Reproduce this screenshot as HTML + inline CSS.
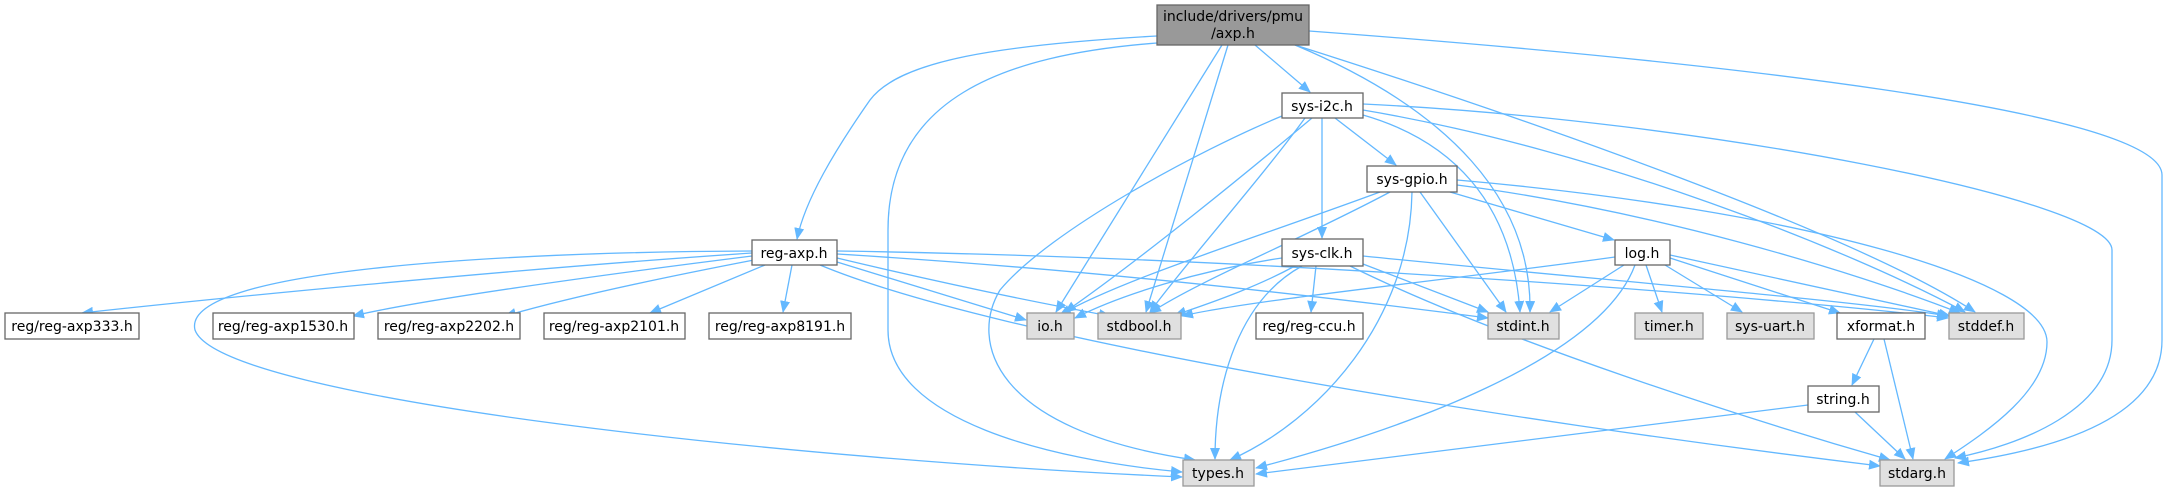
<!DOCTYPE html>
<html><head><meta charset="utf-8"><style>
html,body{margin:0;padding:0;background:#fff;}
svg{display:block;}
text{font-family:"DejaVu Sans","Liberation Sans",sans-serif;font-size:14px;fill:#000;}
.n{fill:#fff;stroke:#666;stroke-width:1.3;}
.g{fill:#e0e0e0;stroke:#999;stroke-width:1.3;}
.e{fill:none;stroke:#63b8ff;stroke-width:1.3;}
</style></head><body>
<svg width="2168" height="491" viewBox="0 0 2168 491" xmlns="http://www.w3.org/2000/svg">
<defs><marker id="a" markerWidth="12" markerHeight="10" refX="11" refY="5" orient="auto" markerUnits="userSpaceOnUse"><path d="M0,0 L12,5 L0,10 z" fill="#63b8ff"/></marker></defs>
<g class="e" marker-end="url(#a)">
<!-- axp.h -->
<path d="M1157,36 C1000,45 900,60 870,100 C835,150 805,200 797,239"/>
<path d="M1157,43 C1000,55 888,100 888,230 L888,330 C888,420 1050,460 1182,472"/>
<path d="M1222,45 L1056,312"/>
<path d="M1228,45 L1146,312"/>
<path d="M1255,45 L1310,92"/>
<path d="M1295,45 C1450,110 1532,200 1530,312"/>
<path d="M1295,45 C1500,110 1850,230 1975,312"/>
<path d="M1309,31 C1700,60 2162,110 2162,175 L2162,340 C2162,420 2050,450 1958,463"/>
<!-- reg-axp.h -->
<path d="M752,253 C500,270 200,300 82,313"/>
<path d="M752,256 C600,275 420,300 353,316"/>
<path d="M754,260 C650,280 560,300 505,316"/>
<path d="M765,265 L650,313"/>
<path d="M792,265 L783,312"/>
<path d="M837,262 L1026,320"/>
<path d="M837,258 C950,285 1050,305 1110,316"/>
<path d="M837,254 C1100,270 1350,300 1488,318"/>
<path d="M837,251 C1300,258 1800,300 1948,318"/>
<path d="M752,251 C500,252 180,270 195,330 C220,400 800,460 1182,477"/>
<path d="M820,265 C1000,340 1500,420 1880,466"/>
<!-- sys-i2c.h -->
<path d="M1335,118 L1396,165"/>
<path d="M1322,118 L1322,238"/>
<path d="M1312,118 C1250,170 1140,260 1065,312"/>
<path d="M1305,118 C1260,180 1180,270 1150,312"/>
<path d="M1282,116 C1200,150 1050,230 1000,290 C970,340 990,430 1195,460"/>
<path d="M1363,115 C1450,140 1512,200 1520,312"/>
<path d="M1363,110 C1600,150 1850,250 1965,312"/>
<path d="M1363,104 C1700,120 2112,200 2112,250 L2112,340 C2112,410 2020,445 1955,458"/>
<!-- sys-gpio.h -->
<path d="M1450,192 L1614,240"/>
<path d="M1380,192 C1250,240 1120,280 1060,315"/>
<path d="M1390,192 C1300,240 1200,280 1150,313"/>
<path d="M1420,192 L1506,312"/>
<path d="M1457,185 C1650,210 1850,270 1960,313"/>
<path d="M1457,180 C1800,210 2047,280 2047,342 C2047,390 1990,430 1945,459"/>
<path d="M1412,192 C1410,320 1320,420 1230,460"/>
<!-- sys-clk.h -->
<path d="M1316,266 L1311,312"/>
<path d="M1282,258 C1200,270 1120,295 1075,318"/>
<path d="M1295,266 C1260,285 1220,300 1175,315"/>
<path d="M1363,264 L1488,312"/>
<path d="M1363,256 C1600,280 1850,300 1948,316"/>
<path d="M1302,266 C1240,300 1215,380 1215,459"/>
<path d="M1350,266 C1500,340 1750,420 1890,460"/>
<!-- log.h -->
<path d="M1615,257 C1450,280 1250,300 1182,316"/>
<path d="M1624,265 L1550,312"/>
<path d="M1646,265 L1662,312"/>
<path d="M1665,265 L1742,312"/>
<path d="M1670,258 L1840,313"/>
<path d="M1670,255 L1950,316"/>
<path d="M1635,265 C1600,360 1400,430 1256,468"/>
<!-- xformat / string -->
<path d="M1874,339 L1852,385"/>
<path d="M1884,339 L1913,459"/>
<path d="M1808,405 L1256,474"/>
<path d="M1855,412 L1905,459"/>
</g>
<!-- nodes -->
<rect x="1157" y="5" width="152" height="40" fill="#999" stroke="#666" stroke-width="1.3"/>
<text x="1233" y="21" text-anchor="middle">include/drivers/pmu</text>
<text x="1233" y="38" text-anchor="middle">/axp.h</text>
<rect class="n" x="1282" y="93" width="81" height="25"/><text x="1322" y="111" text-anchor="middle">sys-i2c.h</text>
<rect class="n" x="1367" y="166" width="90" height="26"/><text x="1412" y="184" text-anchor="middle">sys-gpio.h</text>
<rect class="n" x="752" y="240" width="85" height="25"/><text x="794" y="258" text-anchor="middle">reg-axp.h</text>
<rect class="n" x="1282" y="239" width="81" height="27"/><text x="1322" y="258" text-anchor="middle">sys-clk.h</text>
<rect class="n" x="1615" y="240" width="55" height="25"/><text x="1642" y="258" text-anchor="middle">log.h</text>
<rect class="n" x="5" y="313" width="134" height="26"/><text x="72" y="331" text-anchor="middle">reg/reg-axp333.h</text>
<rect class="n" x="213" y="313" width="141" height="26"/><text x="283" y="331" text-anchor="middle">reg/reg-axp1530.h</text>
<rect class="n" x="378" y="313" width="142" height="26"/><text x="449" y="331" text-anchor="middle">reg/reg-axp2202.h</text>
<rect class="n" x="544" y="313" width="141" height="26"/><text x="614" y="331" text-anchor="middle">reg/reg-axp2101.h</text>
<rect class="n" x="709" y="313" width="142" height="26"/><text x="780" y="331" text-anchor="middle">reg/reg-axp8191.h</text>
<rect class="g" x="1027" y="313" width="47" height="26"/><text x="1050" y="331" text-anchor="middle">io.h</text>
<rect class="g" x="1098" y="313" width="83" height="26"/><text x="1139" y="331" text-anchor="middle">stdbool.h</text>
<rect class="n" x="1256" y="313" width="107" height="26"/><text x="1309" y="331" text-anchor="middle">reg/reg-ccu.h</text>
<rect class="g" x="1488" y="313" width="71" height="26"/><text x="1523" y="331" text-anchor="middle">stdint.h</text>
<rect class="g" x="1635" y="313" width="68" height="26"/><text x="1669" y="331" text-anchor="middle">timer.h</text>
<rect class="g" x="1727" y="313" width="87" height="26"/><text x="1770" y="331" text-anchor="middle">sys-uart.h</text>
<rect class="n" x="1837" y="313" width="88" height="26"/><text x="1881" y="331" text-anchor="middle">xformat.h</text>
<rect class="g" x="1949" y="313" width="75" height="26"/><text x="1986" y="331" text-anchor="middle">stddef.h</text>
<rect class="n" x="1808" y="386" width="71" height="26"/><text x="1843" y="404" text-anchor="middle">string.h</text>
<rect class="g" x="1183" y="460" width="71" height="26"/><text x="1218" y="478" text-anchor="middle">types.h</text>
<rect class="g" x="1880" y="460" width="74" height="26"/><text x="1917" y="478" text-anchor="middle">stdarg.h</text>
</svg>
</body></html>
